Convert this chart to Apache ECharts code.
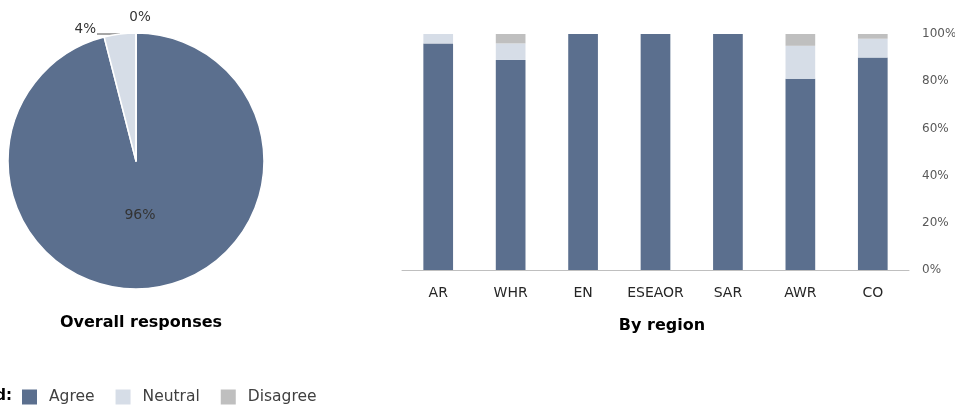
<!DOCTYPE html>
<html>
<head>
<meta charset="utf-8">
<script src="https://cdn.jsdelivr.net/npm/echarts@6/dist/echarts.min.js"></script>
<style>
html,body{margin:0;padding:0;background:#fff;}
#chart{width:955px;height:407px;}
</style>
</head>
<body>
<div id="chart"></div>
<script>
// Response categories and colours
const responseNames = ['Agree', 'Neutral', 'Disagree'];
const responseColors = ['#5b6f8e', '#d6dde7', '#bfbfbf'];

// Overall share of responses (%)
const overallValues = [96, 4, 0];

// Share of responses by region (%)
const regions = ['AR', 'WHR', 'EN', 'ESEAOR', 'SAR', 'AWR', 'CO'];
const agreeByRegion = [96, 89, 100, 100, 100, 81, 90];
const neutralByRegion = [4, 7, 0, 0, 0, 14, 8];
const disagreeByRegion = [0, 4, 0, 0, 0, 5, 2];

// Value axis ticks
const yTicks = { min: 0, max: 100, interval: 20 };

const FONT = '"DejaVu Sans", sans-serif';

const chart = echarts.init(document.getElementById('chart'), null, { renderer: 'canvas' });

// Only the small neutral slice gets a leader line
const pieData = responseNames.map((name, i) => ({
  name, value: overallValues[i], itemStyle: { color: responseColors[i] },
  labelLine: { show: i === 1 }
}));

// Pie label placement: big-slice label inside, small-slice labels above the pie
const pieLabelSpots = [
  { x: 140, y: 215, align: 'center', verticalAlign: 'middle', fontSize: 14 },
  { x: 96, y: 29, align: 'right', verticalAlign: 'middle',
    labelLinePoints: [[120, 34], [98, 34], [97, 34]] },
  { x: 140, y: 17, align: 'center', verticalAlign: 'middle' }
];

const regionSeries = [agreeByRegion, neutralByRegion, disagreeByRegion].map((vals, i) => ({
  name: responseNames[i],
  type: 'bar',
  stack: 'region',
  barWidth: '41%',
  itemStyle: { color: responseColors[i] },
  data: vals
}));

chart.setOption({
  animation: false,
  textStyle: { fontFamily: FONT },
  title: [
    { text: 'Overall responses', left: 136, top: 310, textAlign: 'center',
      textStyle: { fontFamily: FONT, fontSize: 16, fontWeight: 'bold', color: '#000' } },
    { text: 'By region', left: 657, top: 313, textAlign: 'center',
      textStyle: { fontFamily: FONT, fontSize: 16, fontWeight: 'bold', color: '#000' } }
  ],
  graphic: [
    { type: 'text', left: -56, top: 389,
      style: { text: 'Legend:', font: 'bold 15px ' + FONT, fill: '#000' } }
  ],
  legend: {
    data: responseNames,
    left: 17, top: 384,
    icon: 'rect',
    itemWidth: 15, itemHeight: 15,
    itemGap: 21,
    textStyle: { fontFamily: FONT, fontSize: 15.5, color: '#404040', padding: [0, 0, 0, 7] }
  },
  grid: { left: 402, right: 46, top: 34, bottom: 137, outerBoundsMode: 'none' },
  xAxis: {
    type: 'category',
    data: regions,
    axisTick: { show: false },
    axisLine: { lineStyle: { color: '#bfbfbf' } },
    axisLabel: { interval: 0, color: '#262626', fontSize: 14, margin: 16, fontFamily: FONT }
  },
  yAxis: {
    type: 'value',
    position: 'right',
    min: yTicks.min, max: yTicks.max, interval: yTicks.interval,
    splitLine: { show: false },
    axisLine: { show: false },
    axisTick: { show: false },
    axisLabel: { formatter: '{value}%', color: '#595959', fontSize: 12, margin: 13, fontFamily: FONT }
  },
  series: [
    {
      type: 'pie',
      center: [136, 161],
      radius: 128,
      startAngle: 90,
      clockwise: true,
      avoidLabelOverlap: false,
      itemStyle: { borderColor: '#fff', borderWidth: 1.5 },
      label: { formatter: '{c}%', color: '#333', fontSize: 13.5, fontFamily: FONT },
      labelLine: { length: 2, length2: 16, lineStyle: { color: '#a6a6a6', width: 2 } },
      labelLayout: (params) => pieLabelSpots[params.dataIndex],
      data: pieData
    },
    ...regionSeries
  ]
});
</script>
</body>
</html>
